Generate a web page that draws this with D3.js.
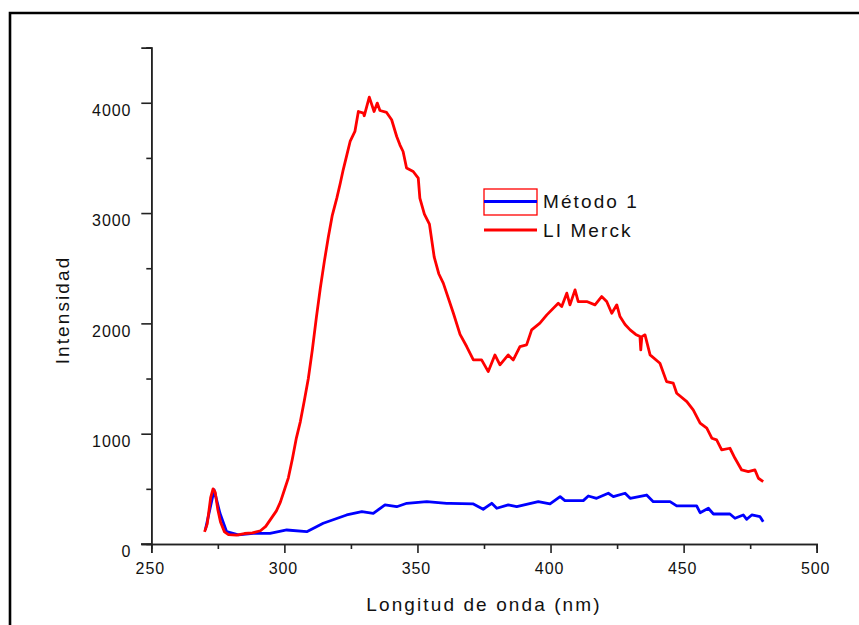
<!DOCTYPE html>
<html><head><meta charset="utf-8">
<script src="https://cdn.jsdelivr.net/npm/d3@7"></script>
<style>body{margin:0;background:#fff}svg{display:block}</style>
</head><body>
<script>
// wavelengths (nm) and intensities
const merckX = [270,271,272.3,273.2,274,275,276,277.5,279,282,285,288,291,293,295,297,298.5,300,301.5,303,304.5,306,307.5,309,310.5,312,313.5,315,316.5,318,319.7,321,322.1,323.5,324.7,326.5,327.8,329.7,330,331.9,333.7,334.9,335.9,338.4,340.3,342.2,343.4,344.6,345.9,348.4,350.3,350.9,352.6,354.5,356.3,358,359.7,363.5,366,368.5,371,374.1,376.6,379.1,381,384.1,386,388.5,391,392.9,396,398.6,402.9,404.2,406.1,407.3,409.2,410.4,413.6,416.7,419.2,421.1,423,424.9,426.1,428,429.9,432,433.6,433.9,434.3,435.5,437.4,441.1,443.6,446.1,447.4,451.2,453.6,456.2,458.7,460.6,462.4,464.3,467.4,469.3,471.8,474.3,476.8,478.1,479.9];
const merckY = [110,180,420,500,470,310,200,110,85,80,95,100,120,160,230,300,380,490,600,770,960,1110,1300,1500,1760,2050,2320,2560,2780,2980,3135,3270,3392,3530,3649,3740,3921,3906,3882,4051,3921,3997,3930,3912,3846,3694,3619,3558,3408,3377,3317,3135,2990,2900,2600,2450,2365,2092,1900,1790,1669,1669,1563,1714,1624,1714,1669,1790,1805,1941,2002,2077,2183,2152,2274,2168,2304,2198,2198,2168,2243,2198,2092,2168,2062,1990,1941,1900,1880,1760,1880,1896,1714,1639,1472,1458,1367,1291,1215,1095,1050,959,944,853,868,777,671,656,671,596,565];
const metodoX = [270.3,273.6,275.8,278.3,282.7,288.3,294.6,300.9,308.4,314.6,323.4,329.1,333.4,337.8,342.2,346,353.5,361,362.2,371,374.7,377.9,379.8,384.1,387.3,395.4,399.8,403.6,405.4,412.3,414.2,417.3,421.7,423.6,428,429.9,436.1,438.6,444.9,447.4,454.9,456.2,459.3,461.2,467.4,469.3,472.4,473.7,475.6,478.7,479.9];
const metodoY = [127,490,278,112,82,97,97,127,112,188,263,293,278,354,338,369,384,369,369,363,315,369,324,354,338,384,363,429,393,393,435,414,460,429,460,414,444,384,384,345,345,284,324,272,272,233,263,224,263,248,202];
const xTicks = [250,300,350,400,450,500];
const xMinor = [275,325,375,425,475];
const yTicks = [0,1000,2000,3000,4000];
const yMinor = [500,1500,2500,3500,4500];
const seriesNames = ["Método 1","LI Merck"];
const xTitle = "Longitud de onda (nm)";
const yTitle = "Intensidad";

const W=859,H=625;
const svg=d3.select("body").append("svg").attr("width",W).attr("height",H);
// frame
svg.append("path").attr("d","M10,640V13H880").attr("fill","none").attr("stroke","#000").attr("stroke-width",2.6);

const x=d3.scaleLinear().domain([250,500]).range([151.3,816.7]);
const y=d3.scaleLinear().domain([0,4500]).range([544,47.6]);
const font="'Liberation Sans',Arial,sans-serif";
const axCol="#222";

// X axis
const gx=svg.append("g").attr("transform",`translate(0,${y(0)})`);
gx.call(d3.axisBottom(x).tickValues(xTicks).tickSize(9).tickFormat(d3.format("d")));
gx.append("g").call(d3.axisBottom(x).tickValues(xMinor).tickSize(5).tickFormat(""));
// Y axis
const gy=svg.append("g").attr("transform",`translate(${x(250)},0)`);
gy.call(d3.axisLeft(y).tickValues(yTicks).tickSize(10).tickFormat(d3.format("d")));
gy.append("g").call(d3.axisLeft(y).tickValues(yMinor).tickSize(5).tickFormat(""));
svg.selectAll(".domain").attr("stroke",axCol).attr("stroke-width",1.6);
svg.selectAll(".tick line").attr("stroke",axCol).attr("stroke-width",1.6);
gx.selectAll(".tick text").attr("font-family",font).attr("font-size",16).attr("letter-spacing","0.9px").attr("fill","#111").attr("dy","1.1em").attr("dx","-1.5");
gy.selectAll(".tick text").attr("font-family",font).attr("font-size",16).attr("letter-spacing","0.9px").attr("fill","#111").attr("dy","0.8em").attr("x",-20);
// extend x-axis line left to y-axis tick
svg.append("line").attr("x1",141).attr("x2",x(250)).attr("y1",y(0)).attr("y2",y(0)).attr("stroke",axCol).attr("stroke-width",1.6);

// axis titles
svg.append("text").attr("x",484).attr("y",611).attr("text-anchor","middle").attr("font-family",font).attr("font-size",19).attr("letter-spacing","2.1px").attr("fill","#111").text(xTitle);
svg.append("text").attr("transform","translate(69,310) rotate(-90)").attr("text-anchor","middle").attr("font-family",font).attr("font-size",19).attr("letter-spacing","2.1px").attr("fill","#111").text(yTitle);

// lines
const line=d3.line().x(d=>x(d[0])).y(d=>y(d[1]));
const metodo=d3.zip(metodoX,metodoY), merck=d3.zip(merckX,merckY);
svg.append("path").datum(metodo).attr("d",line).attr("fill","none").attr("stroke","#0000ff").attr("stroke-width",2.8).attr("stroke-linejoin","round");
svg.append("path").datum(merck).attr("d",line).attr("fill","none").attr("stroke","#ff0000").attr("stroke-width",2.8).attr("stroke-linejoin","round");

// legend
const lg=svg.append("g");
lg.append("rect").attr("x",484).attr("y",189).attr("width",53).attr("height",26).attr("fill","none").attr("stroke","#ff0000").attr("stroke-width",1.3);
lg.append("line").attr("x1",484).attr("x2",537).attr("y1",201.5).attr("y2",201.5).attr("stroke","#0000ff").attr("stroke-width",2.8);
lg.append("line").attr("x1",484).attr("x2",537).attr("y1",230).attr("y2",230).attr("stroke","#ff0000").attr("stroke-width",2.8);
lg.append("text").attr("x",543).attr("y",208).attr("font-family",font).attr("font-size",19).attr("letter-spacing","2.1px").attr("fill","#111").text(seriesNames[0]);
lg.append("text").attr("x",543).attr("y",237).attr("font-family",font).attr("font-size",19).attr("letter-spacing","2.1px").attr("fill","#111").text(seriesNames[1]);
</script>
</body></html>
